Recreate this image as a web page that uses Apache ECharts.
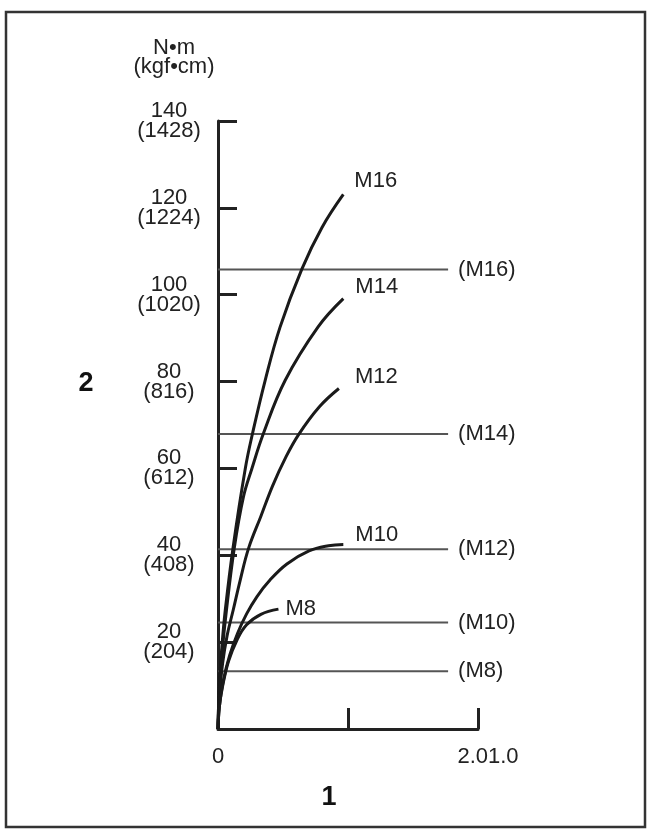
<!DOCTYPE html>
<html>
<head>
<meta charset="utf-8">
<script src="https://cdn.jsdelivr.net/npm/echarts@6/dist/echarts.min.js"></script>
<style>
  html, body { margin: 0; padding: 0; background: #fff; }
  #main { width: 648px; height: 829px; }
</style>
</head>
<body>
<div id="main"></div>
<script>
// torque curves per bolt size, [x, N·m]
var m16 = [[0,0],[0.01,10],[0.03,19],[0.056,27.4],[0.115,41.6],[0.21,60],[0.266,68.1],[0.363,80.3],[0.478,92.6],[0.645,105.9],[0.8,115.5],[0.964,123.1]];
var m14 = [[0,0],[0.01,9],[0.03,17],[0.06,26],[0.125,41.6],[0.196,53.5],[0.261,60],[0.35,68.1],[0.517,80.3],[0.77,92.6],[0.964,99.1]];
var m12 = [[0,0],[0.01,7],[0.035,15],[0.07,21.5],[0.117,27.4],[0.171,34.3],[0.235,41.6],[0.33,49],[0.42,56],[0.52,62.5],[0.62,67.8],[0.78,74.2],[0.93,78.4]];
var m10 = [[0,0],[0.01,5],[0.04,11],[0.09,17],[0.15,22],[0.22,26.5],[0.3,30.5],[0.4,34.3],[0.53,38],[0.7,41],[0.85,42.2],[0.964,42.5]];
var m8 = [[0,0],[0.01,5],[0.03,9],[0.08,15.5],[0.146,20.5],[0.22,24],[0.33,26.4],[0.465,27.6]];
var curveNames = ['M16', 'M14', 'M12', 'M10', 'M8'];
var curveData = [m16, m14, m12, m10, m8];

// horizontal limit lines
var limitNames = ['(M16)', '(M14)', '(M12)', '(M10)', '(M8)'];
var limitValues = [105.8, 67.9, 41.4, 24.5, 13.3];
var limitEnd = 1.77;

// tick labels
var xTickLabels = ['0', '', '2.01.0'];
var kgfLabels = ['(204)', '(408)', '(612)', '(816)', '(1020)', '(1224)', '(1428)'];

var font = 'Liberation Sans, Arial, sans-serif';
var labelOffsets = [[11, -13], [12, -12], [16, -12], [12, -9], [7, 0]];

var series = [];
limitValues.forEach(function (v, i) {
  series.push({
    type: 'line',
    name: limitNames[i],
    data: [[0, v], [limitEnd, v]],
    showSymbol: false,
    silent: true,
    z: 1,
    lineStyle: { color: '#555', width: 2 },
    endLabel: {
      show: true,
      formatter: limitNames[i],
      distance: 10,
      color: '#222',
      fontSize: 22,
      fontFamily: font
    }
  });
});
curveData.forEach(function (d, i) {
  series.push({
    type: 'line',
    name: curveNames[i],
    data: d,
    smooth: 0.4,
    showSymbol: false,
    silent: true,
    z: 3,
    lineStyle: { color: '#1a1a1a', width: 3 },
    endLabel: {
      show: true,
      formatter: curveNames[i],
      distance: 0,
      offset: labelOffsets[i],
      color: '#222',
      fontSize: 22,
      fontFamily: font
    }
  });
});

var chart = echarts.init(document.getElementById('main'));
chart.setOption({
  animation: false,
  backgroundColor: '#fff',
  grid: { left: 218, top: 121, width: 260, height: 608, containLabel: false, outerBoundsMode: 'none' },
  xAxis: {
    type: 'value',
    min: 0,
    max: 2,
    interval: 1,
    axisLine: { lineStyle: { color: '#222', width: 3 } },
    axisTick: { inside: true, length: 21, lineStyle: { color: '#222', width: 3 } },
    splitLine: { show: false },
    axisLabel: {
      margin: 17,
      color: '#222',
      fontSize: 22,
      fontFamily: font,
      formatter: function (v) {
        var i = Math.round(v);
        return (i === 2 ? '{r|' : '{t|') + xTickLabels[i] + '}';
      },
      rich: {
        t: { fontSize: 22, fontFamily: font, color: '#222' },
        r: { fontSize: 22, fontFamily: font, color: '#222', padding: [0, 0, 0, 20] }
      }
    }
  },
  yAxis: {
    type: 'value',
    min: 0,
    max: 140,
    interval: 20,
    axisLine: { lineStyle: { color: '#222', width: 3 } },
    axisTick: { inside: true, length: 19, lineStyle: { color: '#222', width: 3 } },
    splitLine: { show: false },
    axisLabel: {
      margin: 49,
      align: 'center',
      color: '#222',
      fontSize: 22,
      lineHeight: 20,
      fontFamily: font,
      formatter: function (v) {
        if (v === 0) return '';
        return v + '\n' + kgfLabels[v / 20 - 1];
      }
    }
  },
  graphic: [
    { type: 'rect', shape: { x: 6, y: 12, width: 639, height: 815 }, style: { fill: 'none', stroke: '#333', lineWidth: 2.5 } },
    { type: 'text', x: 174, y: 57, style: { text: 'N•m\n(kgf•cm)', fontSize: 22, lineHeight: 19, fontFamily: font, fill: '#222', align: 'center', verticalAlign: 'middle' } },
    { type: 'text', x: 86, y: 384, style: { text: '2', fontSize: 27, fontWeight: 'bold', fontFamily: font, fill: '#111', align: 'center', verticalAlign: 'middle' } },
    { type: 'text', x: 329, y: 798, style: { text: '1', fontSize: 27, fontWeight: 'bold', fontFamily: font, fill: '#111', align: 'center', verticalAlign: 'middle' } }
  ],
  series: series
});
</script>
</body>
</html>
